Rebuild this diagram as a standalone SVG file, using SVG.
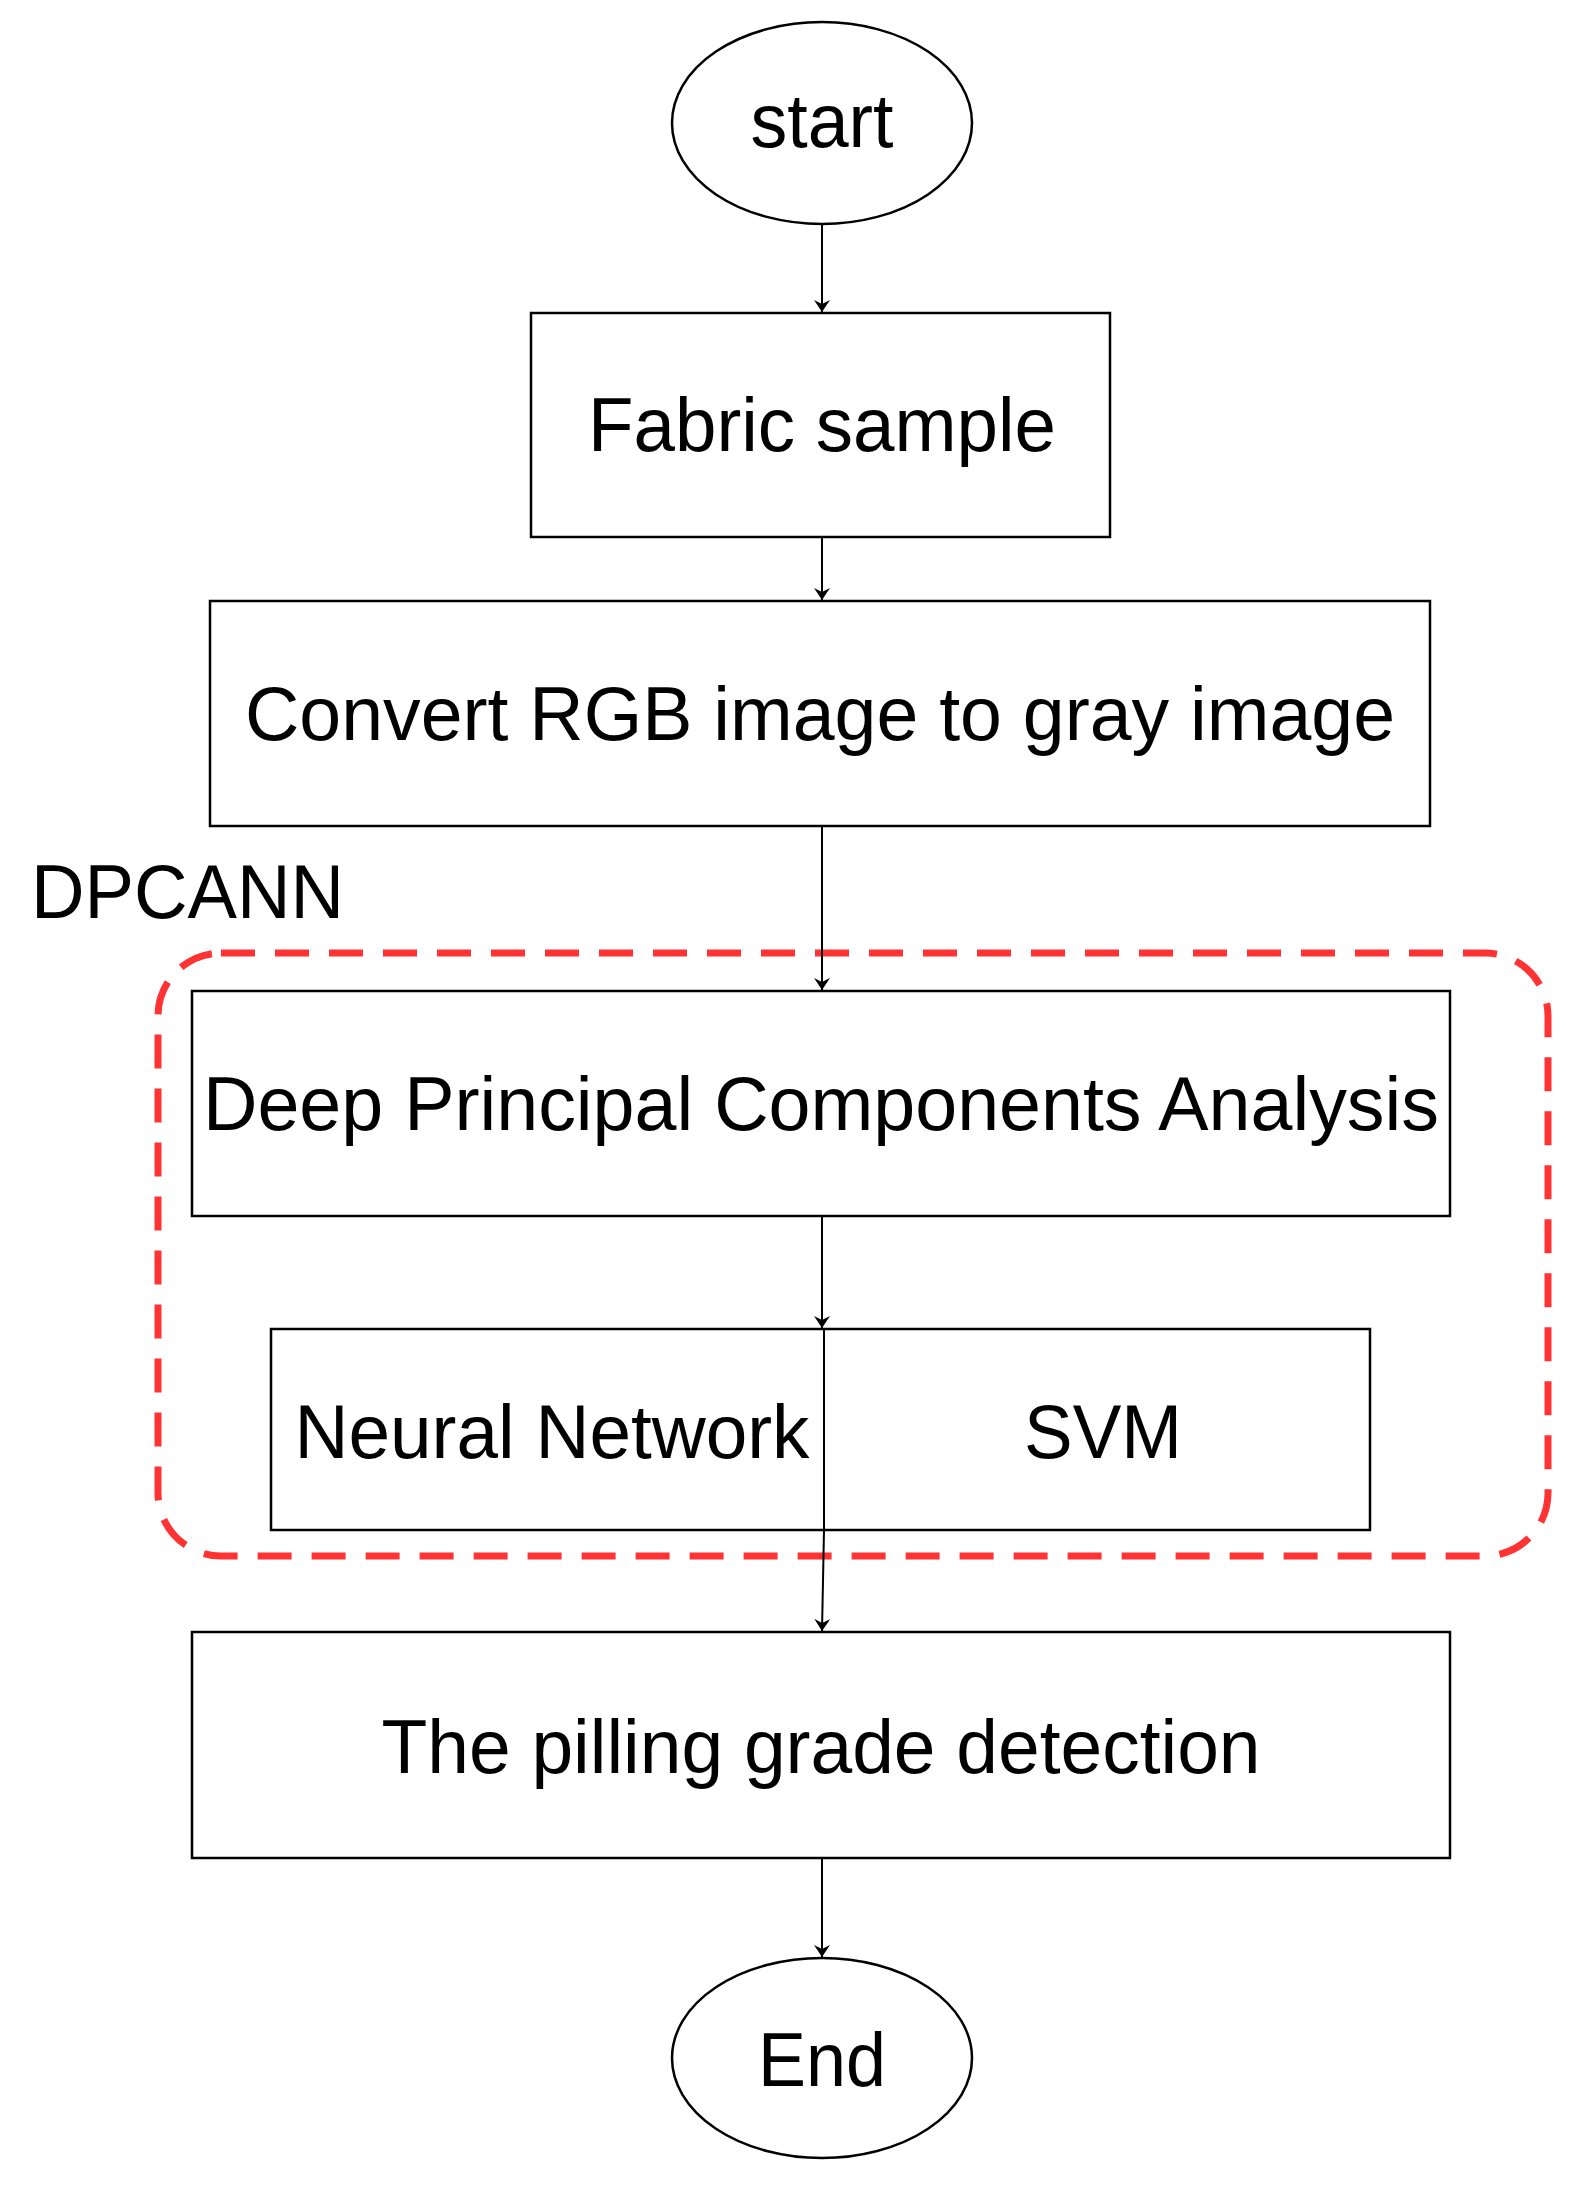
<svg xmlns="http://www.w3.org/2000/svg" width="1594" height="2200" viewBox="0 0 1594 2200">
<style>
.n{fill:#fff;stroke:#000;stroke-width:2.5}
.t{font-family:"Liberation Sans",Arial,sans-serif;font-size:76px;fill:#000;text-anchor:middle}
.c{stroke:#000;stroke-width:2;fill:none;marker-end:url(#a)}
</style>
<defs><marker id="a" markerWidth="12" markerHeight="16" refX="12" refY="8" orient="auto" markerUnits="userSpaceOnUse"><path d="M0,0 L12,8 L0,16 L4,8 Z" fill="#000"/></marker></defs>
<rect width="1594" height="2200" fill="#fff"/>
<g id="dpcann"><rect x="158" y="953" width="1390" height="603" rx="63" fill="none" stroke="#ff3333" stroke-width="7" stroke-dasharray="34,20"/>
<text x="31" y="918" class="t" style="text-anchor:start" textLength="313" lengthAdjust="spacingAndGlyphs">DPCANN</text></g>
<g id="start"><ellipse cx="822" cy="123" rx="150" ry="101" class="n"/><text x="822" y="147" class="t" textLength="143" lengthAdjust="spacingAndGlyphs">start</text></g>
<g id="fabric"><rect x="531" y="313" width="579" height="224" class="n"/><text x="822" y="451" class="t" textLength="468" lengthAdjust="spacingAndGlyphs">Fabric sample</text></g>
<g id="convert"><rect x="210" y="601" width="1220" height="225" class="n"/><text x="820" y="740" class="t" textLength="1150" lengthAdjust="spacingAndGlyphs">Convert RGB image to gray image</text></g>
<g id="dpca"><rect x="192" y="991" width="1258" height="225" class="n"/><text x="821" y="1130" class="t" textLength="1236" lengthAdjust="spacingAndGlyphs">Deep Principal Components Analysis</text></g>
<g id="classifier"><rect x="271" y="1329" width="1099" height="201" class="n"/><line x1="824" y1="1329" x2="824" y2="1530" stroke="#000" stroke-width="2"/>
<text x="552" y="1458" class="t" textLength="515" lengthAdjust="spacingAndGlyphs">Neural Network</text><text x="1103" y="1458" class="t" textLength="158" lengthAdjust="spacingAndGlyphs">SVM</text></g>
<g id="pilling"><rect x="192" y="1632" width="1258" height="226" class="n"/><text x="821" y="1773" class="t" textLength="879" lengthAdjust="spacingAndGlyphs">The pilling grade detection</text></g>
<g id="end"><ellipse cx="822" cy="2058" rx="150" ry="100" class="n"/><text x="822" y="2086" class="t" textLength="128" lengthAdjust="spacingAndGlyphs">End</text></g>
<g id="connectors">
<line x1="822" y1="224" x2="822" y2="312" class="c"/>
<line x1="822" y1="537" x2="822" y2="600" class="c"/>
<line x1="822" y1="826" x2="822" y2="990" class="c"/>
<line x1="822" y1="1216" x2="822" y2="1328" class="c"/>
<line x1="824" y1="1530" x2="822" y2="1631" class="c"/>
<line x1="822" y1="1858" x2="822" y2="1957" class="c"/>
</g>
</svg>
